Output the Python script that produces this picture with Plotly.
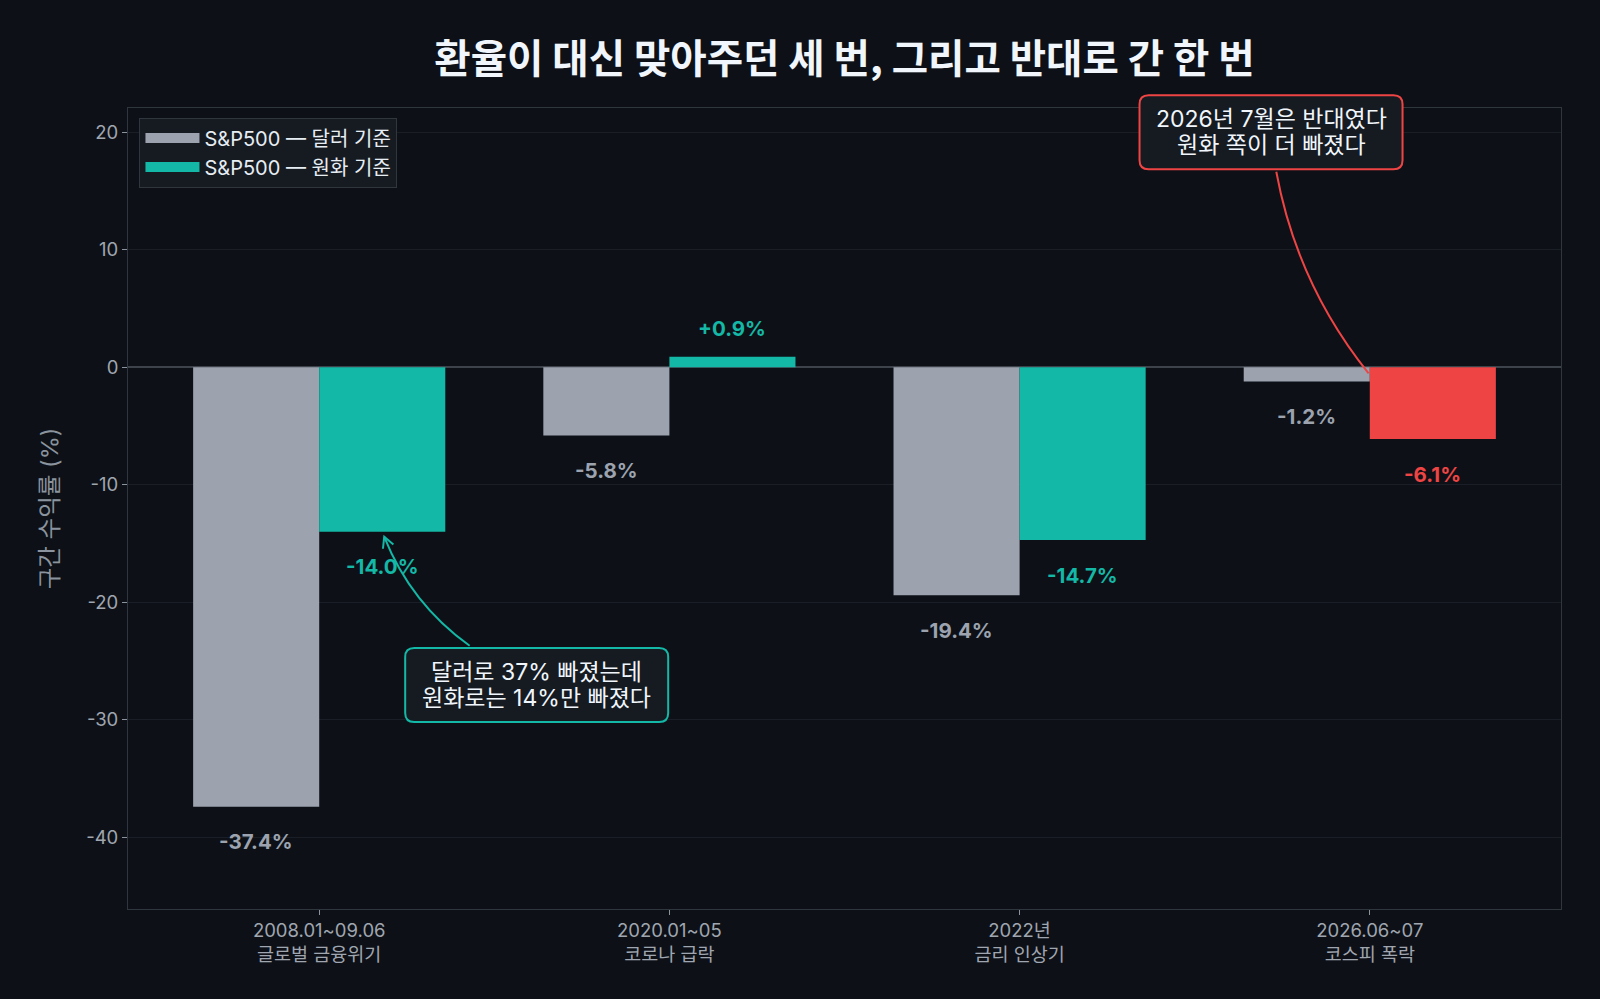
import math
import plotly.graph_objects as go

# 구간별 S&P500 수익률 (%)
periods = ["2008.01~09.06", "2020.01~05", "2022년", "2026.06~07"]
events = ["글로벌 금융위기", "코로나 급락", "금리 인상기", "코스피 폭락"]
usd_ret = [-37.4, -5.8, -19.4, -1.2]
krw_ret = [-14.0, 0.9, -14.7, -6.1]
y_ticks = [-40, -30, -20, -10, 0, 10, 20]

BG = "#0d1117"
GRAY = "#9ca3af"
TEAL = "#14b8a6"
RED = "#ef4444"
FONT = "Inter, 'Noto Sans CJK KR', sans-serif"
KFONT = "'Noto Sans CJK KR', sans-serif"

x_pos = list(range(len(periods)))
tick_text = [f"{p}<br>{e}" for p, e in zip(periods, events)]
# 원화 기준이 더 빠진 구간은 빨간색
krw_colors = [RED if k < u else TEAL for k, u in zip(krw_ret, usd_ret)]

XR = [-0.546, 3.546]
YR = [-46.1, 22.07]
BW = 0.36

fig = go.Figure()
fig.add_bar(x=x_pos, y=usd_ret, width=BW, offset=-BW, marker_color=GRAY,
            marker_line_width=0, showlegend=False)
fig.add_bar(x=x_pos, y=krw_ret, width=BW, offset=0, marker_color=krw_colors,
            marker_line_width=0, showlegend=False)

# 범례용 (넓은 색상 견본)
fig.add_scatter(x=[None], y=[None], mode="lines", line=dict(color=GRAY, width=14),
                name="S&P500 — 달러 기준")
fig.add_scatter(x=[None], y=[None], mode="lines", line=dict(color=TEAL, width=14),
                name="S&P500 — 원화 기준")

# 값 라벨
for i in x_pos:
    for v, dx, col in [(usd_ret[i], -BW / 2, GRAY), (krw_ret[i], BW / 2, krw_colors[i])]:
        fig.add_annotation(x=i + dx, y=v, text=f"{v:+.1f}%" if v > 0 else f"{v:.1f}%",
                           showarrow=False, yshift=28 if v > 0 else -35,
                           font=dict(family=FONT, size=20.5, color=col, weight=700))


def rrect(w, h, r):
    x0, x1, y0, y1 = -w / 2, w / 2, -h / 2, h / 2
    return (f"M{x0 + r},{y0} L{x1 - r},{y0} Q{x1},{y0} {x1},{y0 + r} "
            f"L{x1},{y1 - r} Q{x1},{y1} {x1 - r},{y1} L{x0 + r},{y1} "
            f"Q{x0},{y1} {x0},{y1 - r} L{x0},{y0 + r} Q{x0},{y0} {x0 + r},{y0} Z")


def callout(x, y, lines, color, ref="data"):
    if ref == "data":
        xref, yref = "x", "y"
        ax, ay = x, y
    else:
        xref, yref = "paper", "paper"
        ax = (x - XR[0]) / (XR[1] - XR[0])
        ay = (y - YR[0]) / (YR[1] - YR[0])
    fig.add_shape(type="path", xref=xref, yref=yref, xsizemode="pixel", ysizemode="pixel",
                  xanchor=ax, yanchor=ay, path=rrect(263, 74, 9),
                  line=dict(color=color, width=2), fillcolor="#161b22", layer="above")
    for k, line in enumerate(lines):
        fig.add_annotation(x=ax, y=ay, xref=xref, yref=yref, text=line, showarrow=False,
                           xanchor="center", yanchor="middle",
                           yshift=13 - 26 * k,
                           font=dict(family=FONT, size=23, color="#f0f6fc"))


def curve(x, y, p0, c, p1, color, head=False):
    path = f"M{p0[0]},{p0[1]} Q{c[0]},{c[1]} {p1[0]},{p1[1]}"
    fig.add_shape(type="path", xref="x", yref="y", xsizemode="pixel", ysizemode="pixel",
                  xanchor=x, yanchor=y, path=path, line=dict(color=color, width=2),
                  fillcolor="rgba(0,0,0,0)", layer="above")
    if head:
        dx, dy = p1[0] - c[0], p1[1] - c[1]
        n = math.hypot(dx, dy)
        dx, dy = dx / n, dy / n
        pts = []
        for a in (math.radians(28), -math.radians(28)):
            bx = -dx * math.cos(a) + dy * math.sin(a)
            by = -dx * math.sin(a) - dy * math.cos(a)
            pts.append((p1[0] + 12 * bx, p1[1] + 12 * by))
        hp = f"M{pts[0][0]},{pts[0][1]} L{p1[0]},{p1[1]} L{pts[1][0]},{pts[1][1]}"
        fig.add_shape(type="path", xref="x", yref="y", xsizemode="pixel", ysizemode="pixel",
                      xanchor=x, yanchor=y, path=hp, line=dict(color=color, width=2),
                      fillcolor="rgba(0,0,0,0)", layer="above")


curve(0.18, krw_ret[0], (87.4, -113.9), (28.7, -71.9), (2, -5), TEAL, head=True)
callout(0.621, -27.04, ["달러로 37% 빠졌는데", "원화로는 14%만 빠졌다"], TEAL)
curve(3.0, 0, (-93.5, 195.6), (-72.8, 83.2), (-1.2, -6), RED)
callout(2.718, 20.01, ["2026년 7월은 반대였다", "원화 쪽이 더 빠졌다"], RED, ref="paper")

fig.update_layout(
    width=1600, height=999,
    margin=dict(l=128, r=39, t=108, b=90),
    paper_bgcolor=BG, plot_bgcolor=BG,
    barmode="overlay",
    title=dict(text="환율이 대신 맞아주던 세 번, 그리고 반대로 간 한 번",
               x=0.5, xref="paper", xanchor="center", y=1 - 59 / 999, yanchor="middle",
               font=dict(family=KFONT, size=39.5, color="#f0f6fc", weight=700)),
    legend=dict(x=0.008, y=0.988, xanchor="left", yanchor="top",
                bgcolor="#161b22", bordercolor="#30363d", borderwidth=1,
                font=dict(family=FONT, size=20, color="#e6edf3"),
                itemwidth=54, tracegroupgap=2),
    font=dict(family=FONT, color=GRAY),
)
fig.update_xaxes(range=XR, tickvals=x_pos, ticktext=tick_text,
                 tickfont=dict(family=FONT, size=18.5, color="#a0a6b0"),
                 ticks="outside", ticklen=5, tickcolor="#8b949e",
                 showgrid=False, zeroline=False,
                 showline=True, mirror=True, linecolor="#30363d", linewidth=1)
fig.update_yaxes(range=YR, tickvals=y_ticks, ticktext=[str(t) for t in y_ticks],
                 tickfont=dict(family=FONT, size=18.5, color="#a0a6b0"),
                 ticks="outside", ticklen=5, tickcolor="#8b949e",
                 showgrid=True, gridcolor="#1a1f27", gridwidth=1,
                 zeroline=True, zerolinecolor="#3d434b", zerolinewidth=1.5,
                 showline=True, mirror=True, linecolor="#30363d", linewidth=1,
                 title=dict(text="구간 수익률 (%)", standoff=20,
                            font=dict(family=FONT, size=23.5, color="#8b949e")))

fig.write_html("out.html", config={"displayModeBar": False},
               post_script="document.body.style.margin='0';")
